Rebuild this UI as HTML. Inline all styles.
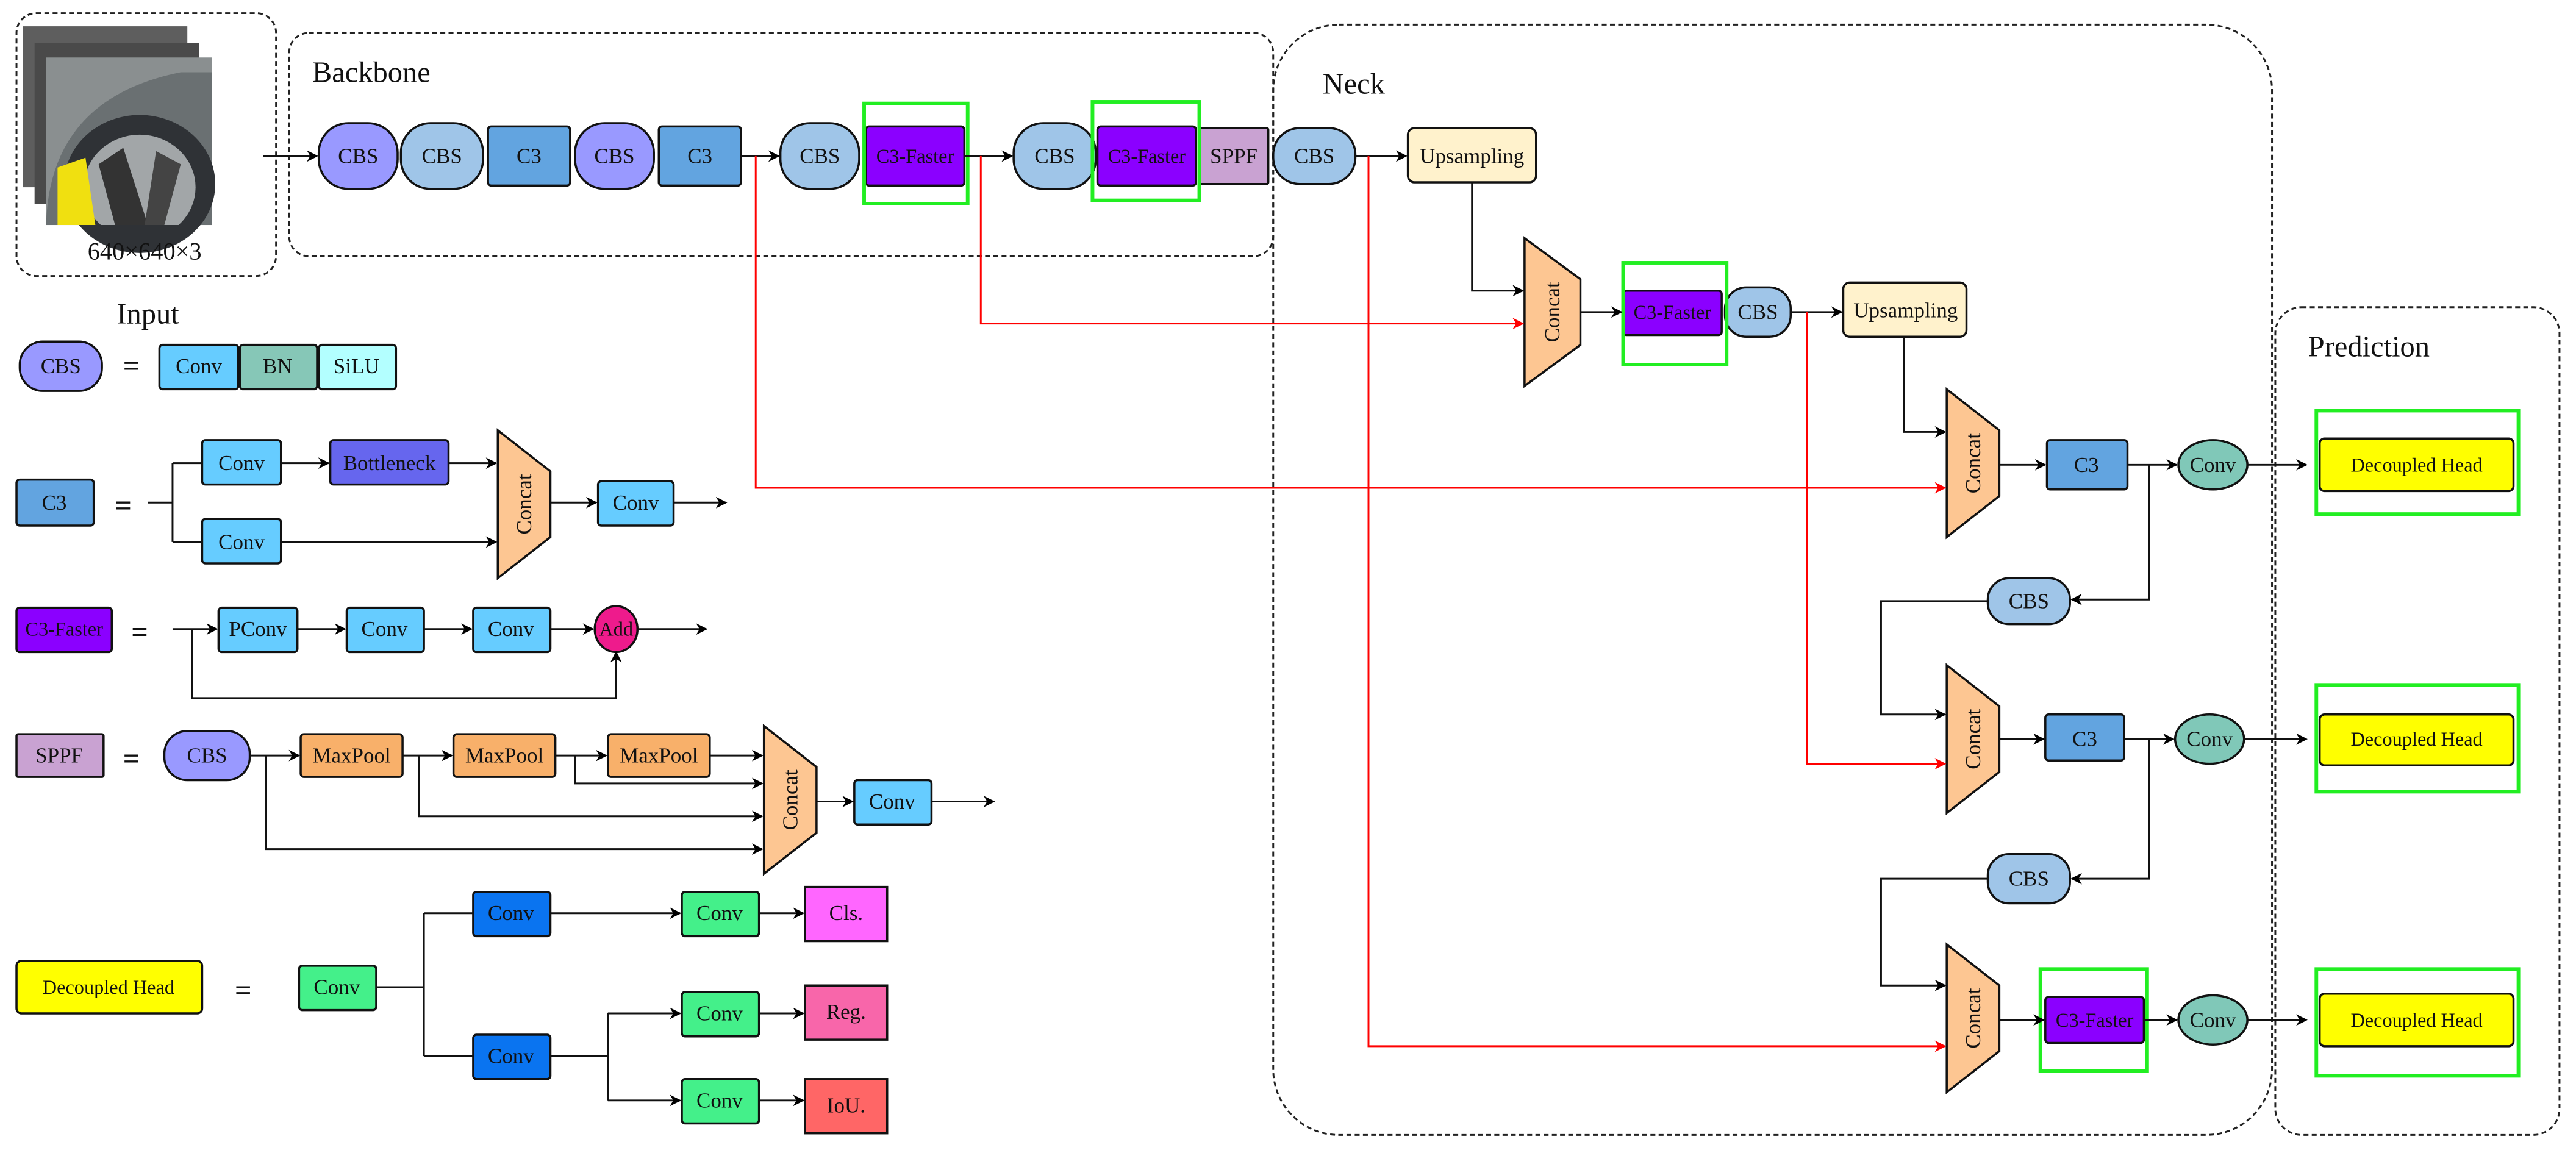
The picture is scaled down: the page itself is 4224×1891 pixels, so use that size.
<!DOCTYPE html>
<html><head><meta charset="utf-8"><style>
html,body{margin:0;padding:0;background:#fff;}
svg{display:block;}
text{font-family:"Liberation Serif","Times New Roman",serif;fill:#111;}
</style></head><body>
<svg width="4224" height="1891" viewBox="0 0 1568 702" xmlns="http://www.w3.org/2000/svg" font-family="Liberation Serif, serif">
<defs>
<marker id="a" viewBox="0 0 10 10" refX="9" refY="5" markerWidth="7" markerHeight="7" orient="auto" markerUnits="userSpaceOnUse"><path d="M0,0 L10,5 L0,10 L3,5z" fill="#000"/></marker>
<marker id="r" viewBox="0 0 10 10" refX="9" refY="5" markerWidth="7" markerHeight="7" orient="auto" markerUnits="userSpaceOnUse"><path d="M0,0 L10,5 L0,10 L3,5z" fill="#f00"/></marker>
</defs>
<g fill="none" stroke="#222" stroke-width="1.1" stroke-dasharray="3,2">
<rect x="10" y="8" width="158" height="160" rx="12"/>
<rect x="176" y="20" width="599" height="136" rx="12"/>
<rect x="775" y="15" width="608" height="676" rx="40"/>
<rect x="1385" y="187" width="173" height="504" rx="16"/>
</g>
<!-- input images -->
<rect x="14" y="16" width="100" height="98" fill="#5e5e5e"/>
<rect x="21" y="26" width="100" height="98" fill="#4a4a4a"/>
<rect x="28" y="35" width="101" height="102" fill="#8a8f90"/>
<path d="M28,137 Q30,60 110,44 L129,44 L129,137z" fill="#6a7072"/>
<ellipse cx="85" cy="112" rx="46" ry="42" fill="#2f3236"/>
<clipPath id="cl"><rect x="28" y="35" width="101" height="102"/></clipPath>
<g clip-path="url(#cl)">
<ellipse cx="85" cy="114" rx="34" ry="32" fill="#a2a6a8"/>
<path d="M60,100 L75,90 L90,137 L70,137z" fill="#333"/>
<path d="M95,92 L110,100 L100,137 L88,137z" fill="#444"/>
<path d="M35,102 L52,96 L58,137 L35,137z" fill="#f0e010"/>
</g>
<text x="88" y="158" font-size="15" text-anchor="middle">640×640×3</text>
<text x="190" y="50" font-size="18">Backbone</text>
<text x="805" y="57" font-size="18">Neck</text>
<text x="1405" y="217" font-size="18">Prediction</text>
<text x="90" y="197" font-size="18" text-anchor="middle">Input</text>

<g stroke="#111" stroke-width="1.3" font-size="13">
<rect x="194" y="75" width="48" height="40" rx="18" fill="#9999ff"/>
<rect x="244" y="75" width="50" height="40" rx="18" fill="#9fc5e8"/>
<rect x="297" y="77" width="50" height="36" rx="2" fill="#62a4e0"/>
<rect x="350" y="75" width="48" height="40" rx="18" fill="#9999ff"/>
<rect x="401" y="77" width="50" height="36" rx="2" fill="#62a4e0"/>
<rect x="475" y="75" width="48" height="40" rx="18" fill="#9fc5e8"/>
<rect x="527" y="77" width="60" height="36" rx="2" fill="#8b00ff"/>
<rect x="617" y="75" width="50" height="40" rx="18" fill="#9fc5e8"/>
<rect x="668" y="77" width="60" height="36" rx="2" fill="#8b00ff"/>
<rect x="730" y="78" width="42" height="34" rx="1" fill="#c9a2d2"/>
<rect x="775" y="78" width="50" height="34" rx="16" fill="#9fc5e8"/>
<rect x="857" y="78" width="78" height="33" rx="4" fill="#fff2cc"/>
<path d="M928,145 L962,170 L962,210 L928,235z" fill="#fdc692"/>
<rect x="988" y="177" width="60" height="27" rx="2" fill="#8b00ff"/>
<rect x="1050" y="175" width="40" height="30" rx="13" fill="#9fc5e8"/>
<rect x="1122" y="172" width="75" height="33" rx="4" fill="#fff2cc"/>
<path d="M1185,237 L1217,262 L1217,302 L1185,327z" fill="#fdc692"/>
<rect x="1246" y="268" width="49" height="30" rx="2" fill="#62a4e0"/>
<ellipse cx="1347" cy="283" rx="21" ry="15" fill="#80c8b8"/>
<rect x="1412" y="267" width="118" height="32" rx="3" fill="#ffff00"/>
<rect x="1210" y="352" width="50" height="28" rx="13" fill="#9fc5e8"/>
<path d="M1185,405 L1217,430 L1217,470 L1185,495z" fill="#fdc692"/>
<rect x="1245" y="435" width="48" height="28" rx="2" fill="#62a4e0"/>
<ellipse cx="1345" cy="450" rx="21" ry="15" fill="#80c8b8"/>
<rect x="1412" y="435" width="118" height="31" rx="3" fill="#ffff00"/>
<rect x="1210" y="520" width="50" height="30" rx="13" fill="#9fc5e8"/>
<path d="M1185,575 L1217,600 L1217,640 L1185,665z" fill="#fdc692"/>
<rect x="1245" y="607" width="60" height="28" rx="2" fill="#8b00ff"/>
<ellipse cx="1347" cy="621" rx="21" ry="15" fill="#80c8b8"/>
<rect x="1412" y="605" width="118" height="32" rx="3" fill="#ffff00"/>
<rect x="12" y="208" width="50" height="30" rx="14" fill="#9999ff"/>
<rect x="97" y="210" width="48" height="27" rx="2" fill="#66ccff"/>
<rect x="146" y="210" width="47" height="27" rx="2" fill="#86c7b7"/>
<rect x="194" y="210" width="47" height="27" rx="2" fill="#b3ffff"/>
<rect x="10" y="292" width="47" height="28" rx="2" fill="#62a4e0"/>
<rect x="123" y="268" width="48" height="27" rx="2" fill="#66ccff"/>
<rect x="201" y="268" width="72" height="27" rx="2" fill="#6666ee"/>
<rect x="123" y="316" width="48" height="27" rx="2" fill="#66ccff"/>
<path d="M303,262 L335,287 L335,327 L303,352z" fill="#fdc692"/>
<rect x="364" y="293" width="46" height="27" rx="2" fill="#66ccff"/>
<rect x="10" y="370" width="58" height="27" rx="2" fill="#8b00ff"/>
<rect x="133" y="370" width="48" height="27" rx="2" fill="#66ccff"/>
<rect x="211" y="370" width="47" height="27" rx="2" fill="#66ccff"/>
<rect x="288" y="370" width="47" height="27" rx="2" fill="#66ccff"/>
<ellipse cx="375" cy="383" rx="13" ry="14" fill="#ee1b8c"/>
<rect x="10" y="447" width="53" height="26" rx="1" fill="#c9a2d2"/>
<rect x="100" y="445" width="52" height="30" rx="14" fill="#9999ff"/>
<rect x="183" y="447" width="62" height="26" rx="2" fill="#f8b06a"/>
<rect x="276" y="447" width="62" height="26" rx="2" fill="#f8b06a"/>
<rect x="370" y="447" width="62" height="26" rx="2" fill="#f8b06a"/>
<path d="M465,442 L497,467 L497,507 L465,532z" fill="#fdc692"/>
<rect x="520" y="475" width="47" height="27" rx="2" fill="#66ccff"/>
<rect x="10" y="585" width="113" height="32" rx="3" fill="#ffff00"/>
<rect x="182" y="588" width="47" height="27" rx="2" fill="#44f08a"/>
<rect x="288" y="543" width="47" height="27" rx="2" fill="#0a74f0"/>
<rect x="288" y="630" width="47" height="27" rx="2" fill="#0a74f0"/>
<rect x="415" y="543" width="47" height="27" rx="2" fill="#44f08a"/>
<rect x="415" y="604" width="47" height="27" rx="2" fill="#44f08a"/>
<rect x="415" y="657" width="47" height="27" rx="2" fill="#44f08a"/>
<rect x="490" y="540" width="50" height="33" fill="#ff66ff"/>
<rect x="490" y="600" width="50" height="33" fill="#f866aa"/>
<rect x="490" y="657" width="50" height="33" fill="#ff6666"/>
</g>
<g fill="none" stroke="#22ee22" stroke-width="2.2">
<rect x="526" y="63" width="63" height="61"/>
<rect x="665" y="62" width="65" height="60"/>
<rect x="988" y="160" width="63" height="62"/>
<rect x="1410" y="250" width="123" height="63"/>
<rect x="1410" y="417" width="123" height="65"/>
<rect x="1242" y="590" width="65" height="62"/>
<rect x="1410" y="590" width="123" height="65"/>
</g>
<g fill="none" stroke="#111" stroke-width="1.1">
<path d="M160,95 H193" marker-end="url(#a)"/>
<path d="M451,95 H474" marker-end="url(#a)"/>
<path d="M587,95 H616" marker-end="url(#a)"/>
<path d="M825,95 H856" marker-end="url(#a)"/>
<path d="M896,111 V177 H927" marker-end="url(#a)"/>
<path d="M962,190 H987" marker-end="url(#a)"/>
<path d="M1090,190 H1121" marker-end="url(#a)"/>
<path d="M1159,205 V263 H1184" marker-end="url(#a)"/>
<path d="M1217,283 H1245" marker-end="url(#a)"/>
<path d="M1295,283 H1325" marker-end="url(#a)"/>
<path d="M1368,283 H1404" marker-end="url(#a)"/>
<path d="M1308,283 V365 H1261" marker-end="url(#a)"/>
<path d="M1210,366 H1145 V435 H1184" marker-end="url(#a)"/>
<path d="M1217,450 H1244" marker-end="url(#a)"/>
<path d="M1293,450 H1323" marker-end="url(#a)"/>
<path d="M1366,450 H1404" marker-end="url(#a)"/>
<path d="M1308,450 V535 H1261" marker-end="url(#a)"/>
<path d="M1210,535 H1145 V600 H1184" marker-end="url(#a)"/>
<path d="M1217,621 H1244" marker-end="url(#a)"/>
<path d="M1305,621 H1325" marker-end="url(#a)"/>
<path d="M1368,621 H1404" marker-end="url(#a)"/>
<path d="M90,306 H105 M105,282 V330"/>
<path d="M105,282 H123 M105,330 H123"/>
<path d="M171,282 H200" marker-end="url(#a)"/>
<path d="M273,282 H302" marker-end="url(#a)"/>
<path d="M171,330 H302" marker-end="url(#a)"/>
<path d="M335,306 H363" marker-end="url(#a)"/>
<path d="M410,306 H442" marker-end="url(#a)"/>
<path d="M105,383 H132" marker-end="url(#a)"/>
<path d="M181,383 H210" marker-end="url(#a)"/>
<path d="M258,383 H287" marker-end="url(#a)"/>
<path d="M335,383 H361" marker-end="url(#a)"/>
<path d="M388,383 H430" marker-end="url(#a)"/>
<path d="M117,383 V425 H375 V397" marker-end="url(#a)"/>
<path d="M152,460 H182" marker-end="url(#a)"/>
<path d="M245,460 H275" marker-end="url(#a)"/>
<path d="M338,460 H369" marker-end="url(#a)"/>
<path d="M432,460 H464" marker-end="url(#a)"/>
<path d="M350,460 V477 H464" marker-end="url(#a)"/>
<path d="M255,460 V497 H464" marker-end="url(#a)"/>
<path d="M162,460 V517 H464" marker-end="url(#a)"/>
<path d="M497,488 H519" marker-end="url(#a)"/>
<path d="M567,488 H605" marker-end="url(#a)"/>
<path d="M229,601 H258 M258,556 V643 M258,556 H288 M258,643 H288"/>
<path d="M335,556 H414" marker-end="url(#a)"/>
<path d="M462,556 H489" marker-end="url(#a)"/>
<path d="M335,643 H370 M370,617 V670"/>
<path d="M370,617 H414" marker-end="url(#a)"/>
<path d="M370,670 H414" marker-end="url(#a)"/>
<path d="M462,617 H489" marker-end="url(#a)"/>
<path d="M462,670 H489" marker-end="url(#a)"/>
</g>
<g fill="none" stroke="#f00" stroke-width="1.1">
<path d="M460,95 V297 H1184" marker-end="url(#r)"/>
<path d="M597,95 V197 H927" marker-end="url(#r)"/>
<path d="M833,95 V637 H1184" marker-end="url(#r)"/>
<path d="M1100,190 V465 H1184" marker-end="url(#r)"/>
</g>
<g font-size="13" text-anchor="middle" dominant-baseline="central" font-family="Liberation Serif, serif">
<text x="218" y="95">CBS</text><text x="269" y="95">CBS</text><text x="322" y="95">C3</text>
<text x="374" y="95">CBS</text><text x="426" y="95">C3</text><text x="499" y="95">CBS</text>
<text x="557" y="95" font-size="12">C3-Faster</text><text x="642" y="95">CBS</text>
<text x="698" y="95" font-size="12">C3-Faster</text><text x="751" y="95">SPPF</text>
<text x="800" y="95">CBS</text><text x="896" y="95">Upsampling</text>
<text x="1018" y="190" font-size="12">C3-Faster</text><text x="1070" y="190">CBS</text>
<text x="1160" y="189">Upsampling</text>
<text x="1270" y="283">C3</text><text x="1347" y="283">Conv</text>
<text x="1471" y="283" font-size="12">Decoupled Head</text>
<text x="1235" y="366">CBS</text>
<text x="1269" y="450">C3</text><text x="1345" y="450">Conv</text>
<text x="1471" y="450" font-size="12">Decoupled Head</text>
<text x="1235" y="535">CBS</text>
<text x="1275" y="621" font-size="12">C3-Faster</text><text x="1347" y="621">Conv</text>
<text x="1471" y="621" font-size="12">Decoupled Head</text>
<text x="37" y="223">CBS</text><text x="121" y="223">Conv</text><text x="169" y="223">BN</text><text x="217" y="223">SiLU</text>
<text x="33" y="306">C3</text><text x="147" y="282">Conv</text><text x="237" y="282">Bottleneck</text>
<text x="147" y="330">Conv</text><text x="387" y="306">Conv</text>
<text x="39" y="383" font-size="12">C3-Faster</text><text x="157" y="383">PConv</text>
<text x="234" y="383">Conv</text><text x="311" y="383">Conv</text><text x="375" y="383" font-size="12">Add</text>
<text x="36" y="460">SPPF</text><text x="126" y="460">CBS</text>
<text x="214" y="460">MaxPool</text><text x="307" y="460">MaxPool</text><text x="401" y="460">MaxPool</text>
<text x="543" y="488">Conv</text>
<text x="66" y="601" font-size="12">Decoupled Head</text><text x="205" y="601">Conv</text>
<text x="311" y="556">Conv</text><text x="311" y="643">Conv</text>
<text x="438" y="556">Conv</text><text x="438" y="617">Conv</text><text x="438" y="670">Conv</text>
<text x="515" y="556">Cls.</text><text x="515" y="616">Reg.</text><text x="515" y="673">IoU.</text>
<text x="80" y="223" font-size="18" font-weight="bold">=</text>
<text x="75" y="308" font-size="18" font-weight="bold">=</text>
<text x="85" y="385" font-size="18" font-weight="bold">=</text>
<text x="80" y="462" font-size="18" font-weight="bold">=</text>
<text x="148" y="603" font-size="18" font-weight="bold">=</text>
</g>
<g font-size="13" text-anchor="middle" dominant-baseline="central" font-family="Liberation Serif, serif">
<text transform="translate(945,190) rotate(-90)">Concat</text>
<text transform="translate(1201,282) rotate(-90)">Concat</text>
<text transform="translate(1201,450) rotate(-90)">Concat</text>
<text transform="translate(1201,620) rotate(-90)">Concat</text>
<text transform="translate(319,307) rotate(-90)">Concat</text>
<text transform="translate(481,487) rotate(-90)">Concat</text>
</g>
</svg>
</body></html>
